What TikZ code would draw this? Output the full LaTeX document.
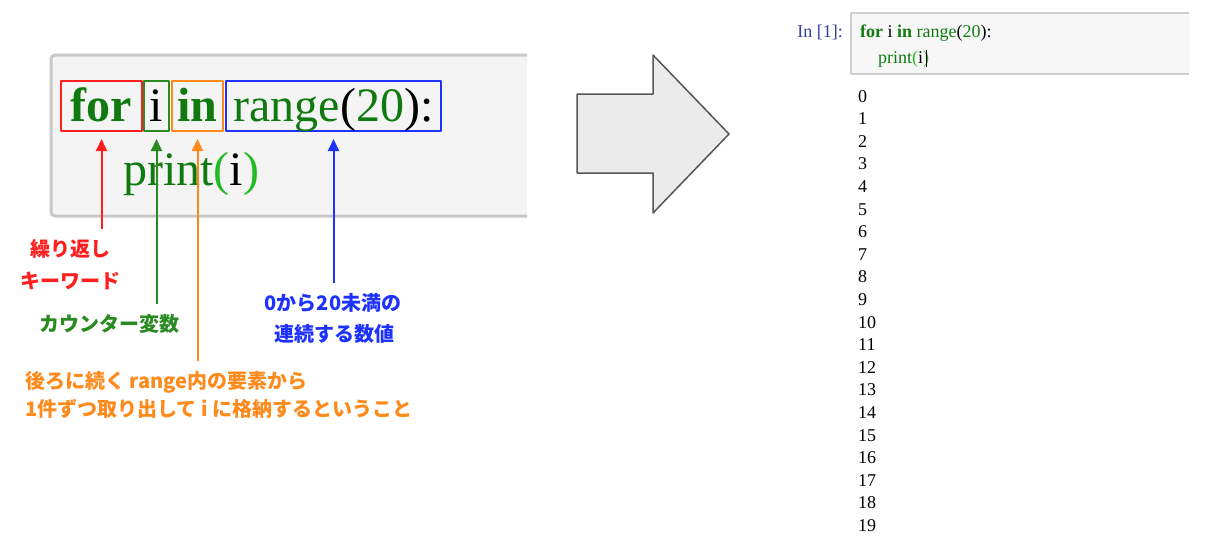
\documentclass[tikz,border=0pt]{standalone}
\usepackage{fontspec}
\usepackage{tikz}
\usetikzlibrary{arrows.meta}
\newfontfamily\codefont{Liberation Serif}
\newfontfamily\jpfont{Noto Sans CJK JP}
\definecolor{keyred}{HTML}{FF1F1F}
\definecolor{cntgreen}{HTML}{2A8A22}
\definecolor{elemorange}{HTML}{FF8A1C}
\definecolor{rngblue}{HTML}{1E32FF}
\definecolor{codegreen}{HTML}{107A10}
\definecolor{brightgreen}{HTML}{22BB22}
\definecolor{promptblue}{HTML}{303F9F}
\definecolor{cellgray}{HTML}{F4F4F4}
\definecolor{edgegray}{HTML}{C8C8C8}
\definecolor{arrowfill}{HTML}{EBEBEB}
\definecolor{arrowedge}{HTML}{555555}
\definecolor{jupfill}{HTML}{F7F7F7}
\definecolor{jupedge}{HTML}{CFCFCF}

\begin{document}
\begin{tikzpicture}[x=1pt, y=-1pt, line join=round,
    codebox/.style={line width=2pt, inner xsep=2pt, inner ysep=2pt, text height=38pt, text depth=8pt, anchor=south west, font=\codefont\fontsize{48}{58}\selectfont},
    lbl/.style={inner sep=0pt, anchor=base, font=\jpfont\bfseries\fontsize{20}{24}\selectfont},
    arr/.style={line width=2pt, -{Triangle[length=12pt,width=11pt]}, shorten <=10pt, shorten >=7pt},
    small/.style={inner sep=0pt, anchor=base west, font=\codefont\fontsize{18}{22}\selectfont}]
    \useasboundingbox (0,0) rectangle (1207,558);

    % left code cell, cut off on the right
    \fill[cellgray] (527,55) -- (51,55) -- (51,216) -- (527,216) -- cycle;
    \draw[edgegray, line width=3pt, rounded corners=4pt] (527,55) -- (51,55) -- (51,216) -- (527,216);

    \node[codebox, draw=keyred, text=codegreen, minimum width=81pt] (boxfor) at (60,132) {\bfseries for};
    \node[codebox, draw=cntgreen, text=black, minimum width=25pt] (boxi) at (143,132) {i};
    \node[codebox, draw=elemorange, text=codegreen, minimum width=51pt] (boxin) at (171,132) {\bfseries in};
    \node[codebox, draw=rngblue, text=black, minimum width=215pt] (boxrange) at (225,132)
        {\textcolor{codegreen}{range}(\textcolor{codegreen}{20}):};
    \node[inner sep=0pt, anchor=base west, font=\codefont\fontsize{48}{58}\selectfont] (print) at (123,185)
        {\textcolor{codegreen}{print}\textcolor{brightgreen}{(}i\textcolor{brightgreen}{)}};

    % labels
    \node[lbl, text=keyred] (lblrepa) at (70,256) {繰り返し};
    \node[lbl, text=keyred] (lblrepb) at (70,288) {キーワード};
    \node[lbl, text=cntgreen] (lblcnt) at (109,331) {カウンター変数};
    \node[lbl, text=rngblue] (lblrnga) at (333,310) {0から20未満の};
    \node[lbl, text=rngblue] (lblrngb) at (334,341) {連続する数値};
    \node[lbl, anchor=base west, text=elemorange] (lblelema) at (25,388) {後ろに続く range内の要素から};
    \node[lbl, anchor=base west, text=elemorange] (lblelemb) at (25,416) {1件ずつ取り出して i に格納するということ};

    \draw[arr, keyred] (boxfor.south |- lblrepa.north) -- (boxfor.south);
    \draw[arr, cntgreen] (boxi.south |- lblcnt.north) -- (boxi.south);
    \draw[arr, elemorange] (boxin.south |- lblelema.north) -- (boxin.south);
    \draw[arr, rngblue] (boxrange.south |- lblrnga.north) -- (boxrange.south);

    % big arrow
    \draw[fill=arrowfill, draw=arrowedge, line width=1.5pt]
        (577,94) -- (653,94) -- (653,55) -- (729,134) -- (653,213) -- (653,173) -- (577,173) -- cycle;

    % jupyter cell
    \fill[jupfill] (1189,13) -- (851,13) -- (851,74) -- (1189,74) -- cycle;
    \draw[jupedge, line width=1.2pt] (1189,13) -- (851,13) -- (851,74) -- (1189,74);
    \node[small, anchor=base east, text=promptblue] (prompt) at (843,37) {In [1]:};
    \node[small] (cellfor) at (860,37)
        {\textcolor{codegreen}{\bfseries for} i \textcolor{codegreen}{\bfseries in} \textcolor{codegreen}{range}(\textcolor{codegreen}{20}):};
    \node[small] (cellprint) at (878,63)
        {\textcolor{codegreen}{print}\textcolor{brightgreen}{(}i\textcolor{brightgreen}{)}};
    \coordinate (cursor) at (926,50);
    \draw[line width=1pt] (cursor) -- ++(0,17);

    % output
    \foreach \n in {0,...,19}
        \node[small] (out\n) at (858,102+22.6*\n) {\n};
\end{tikzpicture}
\end{document}
